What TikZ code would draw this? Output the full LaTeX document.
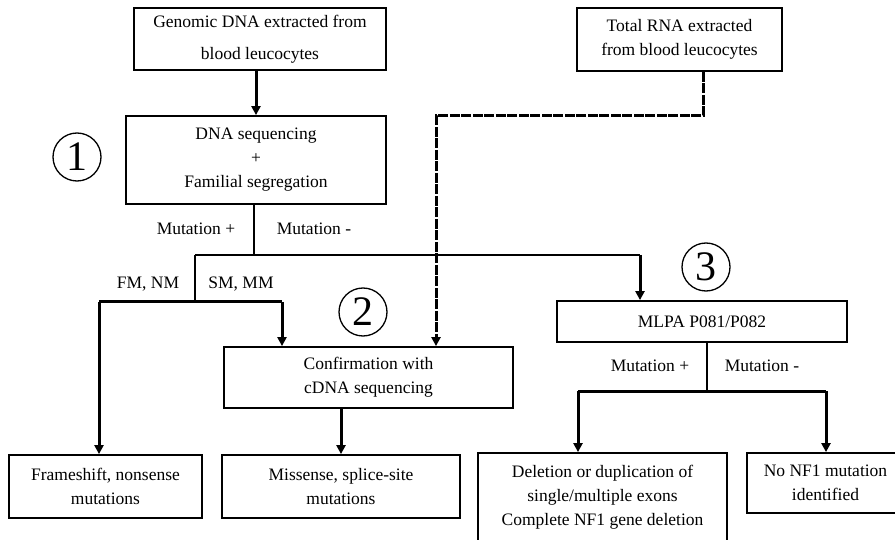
\documentclass[tikz,border=0pt]{standalone}
\usepackage{fontspec}
\setmainfont{Liberation Serif}
\usetikzlibrary{arrows.meta}
\definecolor{preto}{RGB}{0,0,0}
\definecolor{branco}{RGB}{255,255,255}

\tikzset{
  caixa/.style={draw=preto, line width=1.8pt, align=center, inner sep=2pt, fill=branco},
  seta/.style={line width=3pt, -{Triangle[width=9pt,length=9pt]}},
  grossa/.style={line width=3pt},
  fina/.style={line width=1.2pt},
  tracejada/.style={line width=3pt, dash pattern=on 10pt off 1.5pt, -{Triangle[width=9pt,length=9pt]}},
  circulo/.style={draw=preto, circle, line width=1.3pt, minimum size=48pt, inner sep=0pt, font=\fontsize{42}{42}\selectfont},
  rotulo/.style={inner sep=1pt}
}

\begin{document}
\begin{tikzpicture}[x=1pt, y=-1pt, font=\fontsize{17.5}{24}\selectfont]
    \useasboundingbox (0,0) rectangle (895,540);

    % caixas
    \node[caixa, minimum width=252pt, minimum height=62pt] (gdna) at (260,39)
      {Genomic DNA extracted from\\[8pt] blood leucocytes};
    \node[caixa, minimum width=205pt, minimum height=63pt] (rna) at (679.5,39.5)
      {Total RNA extracted\\ from blood leucocytes};
    \node[caixa, minimum width=260pt, minimum height=88pt] (seq) at (256,160)
      {DNA sequencing\\ +\\ Familial segregation};
    \node[caixa, minimum width=289pt, minimum height=61pt] (conf) at (368.5,377.5)
      {Confirmation with\\ cDNA sequencing};
    \node[caixa, minimum width=290pt, minimum height=41pt] (mlpa) at (702,321.5)
      {MLPA P081/P082};
    \node[caixa, minimum width=193pt, minimum height=63pt] (frame) at (105.5,486.5)
      {Frameshift, nonsense\\ mutations};
    \node[caixa, minimum width=238pt, minimum height=63pt] (miss) at (341,486.5)
      {Missense, splice-site\\ mutations};
    \node[caixa, minimum width=249pt, minimum height=88pt] (del) at (602.5,497)
      {Deletion or duplication of\\ single/multiple exons\\ Complete NF1 gene deletion};
    \node[caixa, minimum width=157pt, minimum height=60pt] (nonf) at (825.5,483)
      {No NF1 mutation\\ identified};

    % numeros
    \node[circulo] (um) at (77,157) {1};
    \node[circulo] (dois) at (363,312) {2};
    \node[circulo] (tres) at (706,267) {3};

    % pontos de ramificacao
    \coordinate (s1) at (254,255);
    \coordinate (sl) at (195,255);
    \coordinate (sr) at (640,255);
    \coordinate (b1) at (195,302);
    \coordinate (bl) at (99,302);
    \coordinate (br) at (282,302);
    \coordinate (d1) at (703,116);
    \coordinate (d2) at (436,116);
    \coordinate (m1) at (707,391);
    \coordinate (ml) at (578,391);
    \coordinate (mr) at (826,391);

    % ligacoes
    \draw[seta] (gdna.south -| seq.north) -- (seq.north);
    \draw[fina] (seq.south -| s1) -- (s1);
    \draw[fina] (sl) -- (sr);
    \draw[seta] (sr) -- (mlpa.north -| sr);
    \draw[fina] (sl) -- (b1);
    \draw[grossa] (bl) -- (br);
    \draw[seta] (bl) -- (frame.north -| bl);
    \draw[seta] (br) -- (conf.north -| br);
    \draw[tracejada] (rna.south -| d1) -- (d1) -- (d2) -- (conf.north -| d2);
    \draw[seta] (conf.south -| miss.north) -- (miss.north);
    \draw[fina] (mlpa.south -| m1) -- (m1);
    \draw[grossa] (ml) -- (mr);
    \draw[seta] (ml) -- (del.north -| ml);
    \draw[seta] (mr) -- (nonf.north -| mr);

    % rotulos
    \node[rotulo] (mais1) at (196,229) {Mutation +};
    \node[rotulo] (menos1) at (314,229) {Mutation -};
    \node[rotulo] (fmnm) at (148,284) {FM, NM};
    \node[rotulo] (smmm) at (241,284) {SM, MM};
    \node[rotulo] (mais2) at (650,366) {Mutation +};
    \node[rotulo] (menos2) at (762,366) {Mutation -};
  \end{tikzpicture}
\end{document}
